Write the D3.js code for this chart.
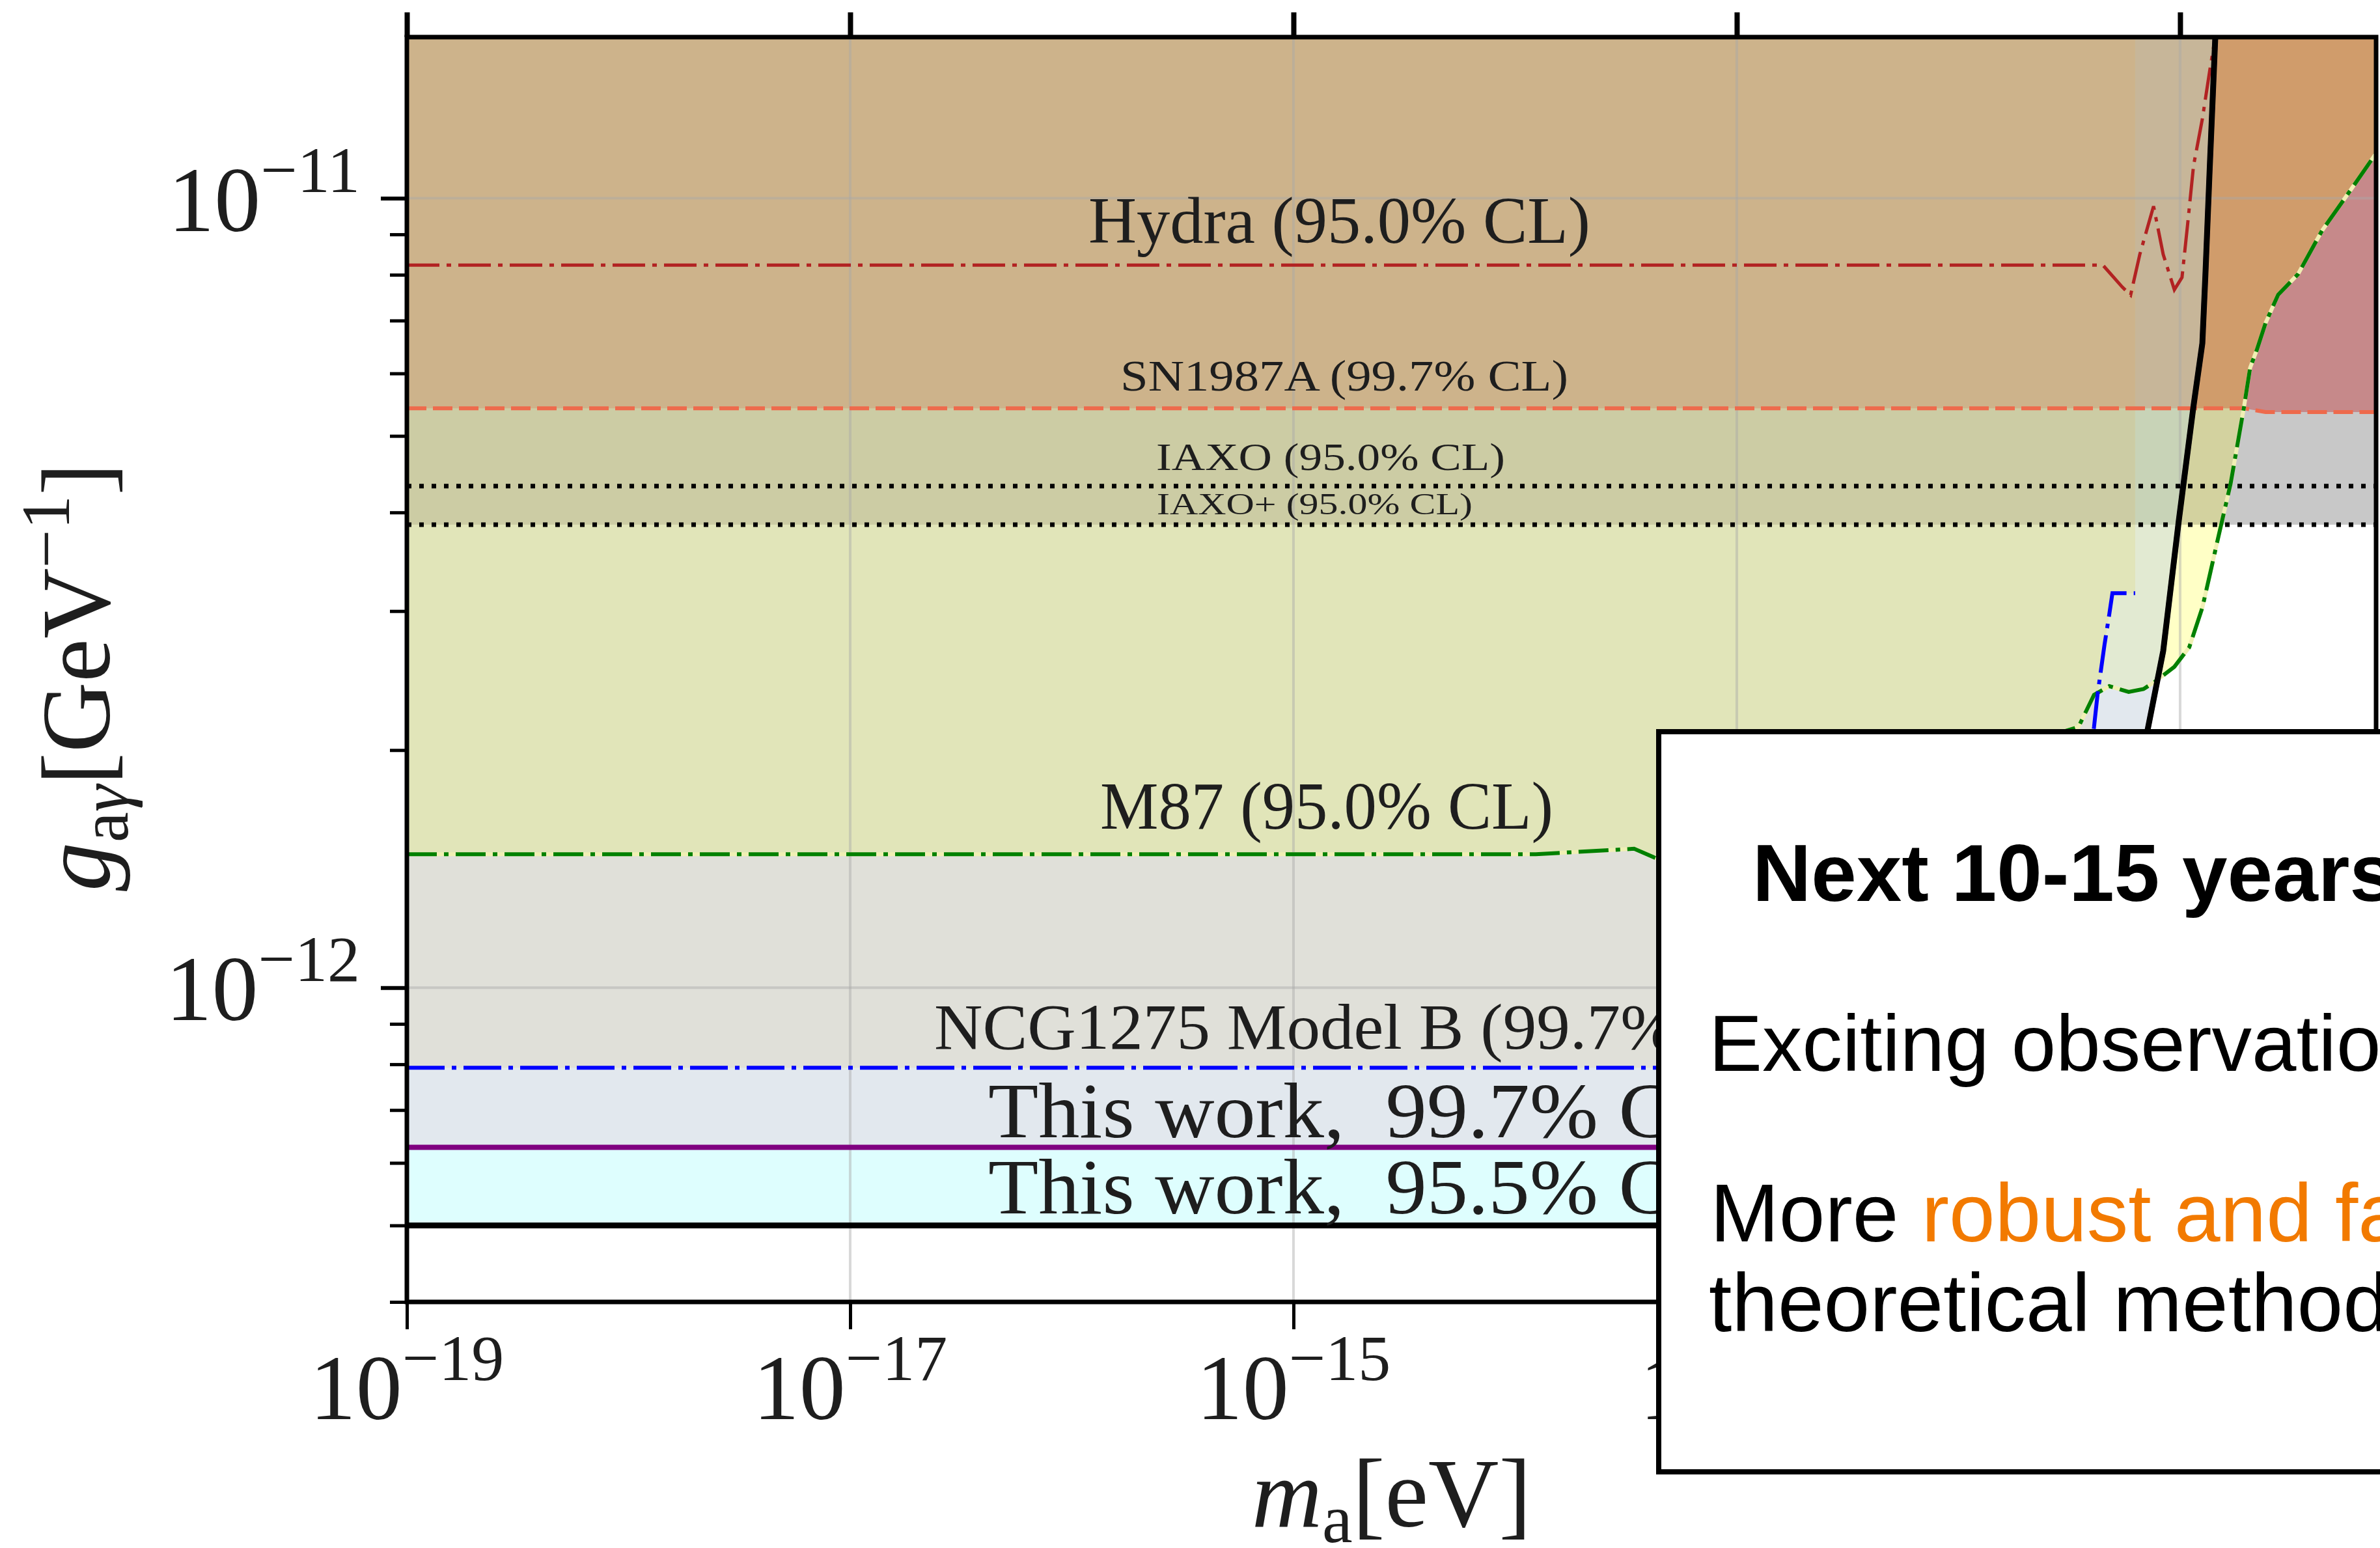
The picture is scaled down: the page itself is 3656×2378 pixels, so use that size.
<!DOCTYPE html>
<html>
<head>
<meta charset="utf-8">
<script src="https://cdn.jsdelivr.net/npm/d3@7"></script>
<style>
  body { margin: 0; background: #fff; }
  svg { display: block; }
</style>
</head>
<body>
<div id="chart"></div>
<script>
// ticks
const xMajor = [1e-19, 1e-17, 1e-15, 1e-13, 1e-11];
const yMajor = [1e-11, 1e-12];
const yMinor = [9e-12, 8e-12, 7e-12, 6e-12, 5e-12, 4e-12, 3e-12, 2e-12,
                9e-13, 8e-13, 7e-13, 6e-13, 5e-13, 4e-13];

// limit curves, [m_a (eV), g_a_gamma (GeV^-1)]
const hydra = [[1e-19, 8.23e-12], [4.48e-12, 8.23e-12], [5.48e-12, 7.72e-12], [5.98e-12, 7.54e-12],
  [6.58e-12, 8.49e-12], [7.59e-12, 9.77e-12], [8.39e-12, 8.49e-12], [9.42e-12, 7.66e-12],
  [1.02e-11, 7.94e-12], [1.08e-11, 9.24e-12], [1.15e-11, 1.10e-11], [1.26e-11, 1.26e-11],
  [1.36e-11, 1.45e-11], [1.43e-11, 1.58e-11], [1.46e-11, 1.70e-11]];
const sn1987a = [[1e-19, 5.42e-12], [1.94e-11, 5.42e-12], [2.43e-11, 5.36e-12], [7.66e-11, 5.36e-12]];
const iaxo = [[1e-19, 4.32e-12], [7.66e-11, 4.32e-12]];
const iaxoPlus = [[1e-19, 3.86e-12], [7.66e-11, 3.86e-12]];
const m87 = [[1e-19, 1.476e-12], [1.24e-14, 1.476e-12], [3.44e-14, 1.50e-12], [4.30e-14, 1.46e-12],
  [3.48e-12, 2.14e-12], [4.09e-12, 2.35e-12], [4.79e-12, 2.41e-12], [5.86e-12, 2.37e-12],
  [6.84e-12, 2.39e-12], [7.67e-12, 2.44e-12], [9.42e-12, 2.55e-12], [1.10e-11, 2.70e-12],
  [1.26e-11, 3.03e-12], [1.35e-11, 3.30e-12], [1.48e-11, 3.70e-12], [1.69e-11, 4.35e-12],
  [1.94e-11, 5.43e-12], [2.07e-11, 6.10e-12], [2.22e-11, 6.43e-12], [2.43e-11, 6.95e-12],
  [2.77e-11, 7.55e-12], [3.40e-11, 8.01e-12], [4.37e-11, 9.10e-12], [5.96e-11, 1.03e-11],
  [7.66e-11, 1.14e-11]];
const ncg1275 = [[1e-19, 7.92e-13], [2.51e-12, 7.92e-13], [4.09e-12, 2.14e-12], [4.24e-12, 2.35e-12],
  [4.56e-12, 2.72e-12], [4.79e-12, 2.97e-12], [4.95e-12, 3.16e-12], [6.27e-12, 3.16e-12]];
// high-mass edge shared by both "this work" bounds
const thisWorkEdge = [[7.18e-12, 2.14e-12], [8.39e-12, 2.67e-12], [9.86e-12, 3.90e-12],
  [1.15e-11, 5.46e-12], [1.26e-11, 6.55e-12], [1.30e-11, 7.97e-12], [1.36e-11, 1.09e-11],
  [1.44e-11, 1.59e-11], [1.45e-11, 1.70e-11]];
const thisWork997 = [[1e-19, 6.28e-13], [2.82e-12, 6.28e-13]].concat(thisWorkEdge);
const thisWork955 = [[1e-19, 5.0e-13], [2.51e-12, 5.0e-13]].concat(thisWorkEdge);

const width = 3656, height = 2378;

const x = d3.scaleLog().domain([1e-19, 7.66e-11]).range([625, 3650]);
const y = d3.scaleLog().domain([4e-13, 1.6e-11]).range([2000, 57]);
const [x0, x1] = x.range();
const [y0, y1] = y.range();

const svg = d3.select("#chart")
  .append("svg")
    .attr("width", width)
    .attr("height", height);

svg.append("rect").attr("width", width).attr("height", height).attr("fill", "#fff");

// area between a curve and the top of the plot
const above = d3.area()
  .x(d => x(d[0]))
  .y0(y1)
  .y1(d => y(d[1]));
const line = d3.line()
  .x(d => x(d[0]))
  .y(d => y(d[1]));

const boxPath = `M${x0},${y1}H${x1}V${y0}H${x0}Z`;

const defs = svg.append("defs");
defs.append("clipPath").attr("id", "plotClip")
  .append("rect").attr("x", x0).attr("y", y1).attr("width", x1 - x0).attr("height", y0 - y1);
defs.append("clipPath").attr("id", "twClip")
  .append("path").attr("d", above(thisWork955));
defs.append("clipPath").attr("id", "notTwClip")
  .append("path").attr("d", boxPath + above(thisWork955)).attr("clip-rule", "evenodd");
defs.append("clipPath").attr("id", "m87Clip")
  .append("path").attr("d", above(m87));
defs.append("clipPath").attr("id", "ncgClip")
  .append("path").attr("d", above(ncg1275));

const plot = svg.append("g").attr("clip-path", "url(#plotClip)");

function fillAll(g, color) {
  g.append("path").attr("d", boxPath).attr("fill", color);
}
function fillAbove(g, data, color) {
  g.append("path").attr("d", above(data)).attr("fill", color);
}

// excluded by this work (left of its edge)
const left = plot.append("g").attr("clip-path", "url(#twClip)");
fillAll(left, "#defefe");
fillAbove(left, thisWork997, "#e2e8ee");
const leftM87 = left.append("g").attr("clip-path", "url(#m87Clip)");
fillAll(leftM87, "#e2ead2");
fillAbove(leftM87, iaxoPlus, "#c8d3b7");
fillAbove(leftM87, sn1987a, "#c7b699");
const leftNcg = left.append("g").attr("clip-path", "url(#ncgClip)");
fillAll(leftNcg, "#e0e0d9");
const leftNcgM87 = leftNcg.append("g").attr("clip-path", "url(#m87Clip)");
fillAll(leftNcgM87, "#e1e5b9");
fillAbove(leftNcgM87, iaxoPlus, "#cccca4");
fillAbove(leftNcgM87, sn1987a, "#cdb38b");

// right of this work's edge
const right = plot.append("g").attr("clip-path", "url(#notTwClip)");
fillAbove(right, iaxoPlus, "#c8c8c8");
fillAbove(right, sn1987a, "#c6898a");
const rightM87 = right.append("g").attr("clip-path", "url(#m87Clip)");
fillAll(rightM87, "#ffffc6");
fillAbove(rightM87, iaxoPlus, "#d3d29f");
fillAbove(rightM87, sn1987a, "#d09c6b");

// grid
plot.selectAll(".vgrid")
  .data(xMajor.slice(1))
  .join("line")
    .attr("x1", d => x(d)).attr("x2", d => x(d))
    .attr("y1", y1).attr("y2", y0)
    .attr("stroke", "#a8a8a8").attr("stroke-opacity", 0.45).attr("stroke-width", 4);
plot.selectAll(".hgrid")
  .data(yMajor)
  .join("line")
    .attr("x1", x0).attr("x2", x1)
    .attr("y1", d => y(d)).attr("y2", d => y(d))
    .attr("stroke", "#a8a8a8").attr("stroke-opacity", 0.45).attr("stroke-width", 4);

// limit lines
function drawLine(data, color, w, dash) {
  plot.append("path")
    .datum(data)
    .attr("fill", "none")
    .attr("stroke", color)
    .attr("stroke-width", w)
    .attr("stroke-dasharray", dash)
    .attr("d", line);
}
drawLine(hydra, "#b22222", 5, "50 11 7 11");
drawLine(sn1987a, "#ee6a4c", 6, "30 10");
drawLine(iaxo, "#000", 7, "7 12");
drawLine(iaxoPlus, "#000", 7, "7 12");
drawLine(m87, "#f0f0b4", 6, null);
drawLine(m87, "#008000", 6, "46 11 7 11");
drawLine(ncg1275, "#0000ff", 6, "58 11 7 11");
drawLine(thisWork997, "#800080", 8, null);
drawLine(thisWork955, "#000", 9, null);

// curve labels, placed just above their line
function addLabel(text, lx, level, gap, size, len) {
  plot.append("text")
    .attr("x", lx)
    .attr("y", y(level) - gap)
    .attr("font-family", "Liberation Serif, Times New Roman, serif")
    .attr("font-size", size)
    .attr("fill", "#1e1e1e")
    .attr("textLength", len)
    .attr("lengthAdjust", "spacingAndGlyphs")
    .text(text);
}
addLabel("Hydra (95.0% CL)", 1672, hydra[0][1], 34, 101, 771);
addLabel("SN1987A (99.7% CL)", 1721, sn1987a[0][1], 27, 68, 688);
addLabel("IAXO (95.0% CL)", 1776, iaxo[0][1], 25, 60, 536);
addLabel("IAXO+ (95.0% CL)", 1777, iaxoPlus[0][1], 16, 46, 485);
addLabel("M87 (95.0% CL)", 1690, m87[0][1], 39, 104, 696);
addLabel("NCG1275 Model B (99.7% CL)", 1435, ncg1275[0][1], 29, 100, 1332);
addLabel("This work,\u00a0 99.7% CL", 1518, thisWork997[0][1], 15, 121, 1130);
addLabel("This work,\u00a0 95.5% CL", 1518, thisWork955[0][1], 18, 121, 1130);

// frame
svg.append("rect")
  .attr("x", x0).attr("y", y1)
  .attr("width", x1 - x0).attr("height", y0 - y1)
  .attr("fill", "none").attr("stroke", "#000").attr("stroke-width", 7);

// ticks
const bottomAxis = svg.append("g")
  .attr("transform", `translate(0,${y0})`)
  .call(d3.axisBottom(x).tickValues(xMajor).tickSize(42).tickSizeOuter(0).tickFormat(""));
const topAxis = svg.append("g")
  .attr("transform", `translate(0,${y1})`)
  .call(d3.axisTop(x).tickValues(xMajor).tickSize(38).tickSizeOuter(0).tickFormat(""));
const leftMinor = svg.append("g")
  .attr("transform", `translate(${x0},0)`)
  .call(d3.axisLeft(y).tickValues(yMinor).tickSize(26).tickSizeOuter(0).tickFormat(""));
const leftMajor = svg.append("g")
  .attr("transform", `translate(${x0},0)`)
  .call(d3.axisLeft(y).tickValues(yMajor).tickSize(40).tickSizeOuter(0).tickFormat(""));
[bottomAxis, topAxis, leftMinor, leftMajor].forEach(a => a.select(".domain").remove());
bottomAxis.selectAll("line").attr("stroke", "#000").attr("stroke-width", 5);
topAxis.selectAll("line").attr("stroke", "#000").attr("stroke-width", 8);
leftMinor.selectAll("line").attr("stroke", "#000").attr("stroke-width", 5);
leftMajor.selectAll("line").attr("stroke", "#000").attr("stroke-width", 6);

// tick labels 10^n
function powLabel(t, v) {
  t.append("tspan").text("10");
  t.append("tspan").attr("font-size", 100).attr("dy", -60)
    .text("\u2212" + Math.abs(Math.round(Math.log10(v))));
}
svg.selectAll(".xlab")
  .data(xMajor)
  .join("text")
    .attr("x", d => x(d))
    .attr("y", 2180)
    .attr("text-anchor", "middle")
    .attr("font-family", "Liberation Serif, serif")
    .attr("font-size", 142)
    .attr("fill", "#1e1e1e")
    .each(function(d) { powLabel(d3.select(this), d); });
svg.selectAll(".ylab")
  .data(yMajor)
  .join("text")
    .attr("x", 553)
    .attr("y", d => y(d) + 50)
    .attr("text-anchor", "end")
    .attr("font-family", "Liberation Serif, serif")
    .attr("font-size", 142)
    .attr("fill", "#1e1e1e")
    .each(function(d) { powLabel(d3.select(this), d); });

// axis titles
const xt = svg.append("text")
  .attr("x", (x0 + x1) / 2)
  .attr("y", 2345)
  .attr("text-anchor", "middle")
  .attr("font-family", "Liberation Serif, serif")
  .attr("font-size", 150)
  .attr("fill", "#1e1e1e");
xt.append("tspan").attr("font-style", "italic").text("m");
xt.append("tspan").attr("font-size", 105).attr("dy", 24).text("a");
xt.append("tspan").attr("dy", -24).text("[eV]");

const yt = svg.append("text")
  .attr("transform", `translate(168,1040) rotate(-90)`)
  .attr("text-anchor", "middle")
  .attr("font-family", "Liberation Serif, serif")
  .attr("font-size", 150)
  .attr("fill", "#1e1e1e");
yt.append("tspan").attr("font-style", "italic").text("g");
yt.append("tspan").attr("font-size", 105).attr("dy", 28).text("a");
yt.append("tspan").attr("font-size", 105).attr("font-style", "italic").text("\u03b3");
yt.append("tspan").attr("dy", -28).text("[GeV");
yt.append("tspan").attr("font-size", 105).attr("dy", -62).text("\u22121");
yt.append("tspan").attr("dy", 62).text("]");

// overlay box
svg.append("rect")
  .attr("x", 2548).attr("y", 1124)
  .attr("width", 1300).attr("height", 1137)
  .attr("fill", "#fff").attr("stroke", "#000").attr("stroke-width", 8);

const sans = "Liberation Sans, Helvetica, Arial, sans-serif";
svg.append("text")
  .attr("x", 2692).attr("y", 1384)
  .attr("font-family", sans).attr("font-weight", "bold").attr("font-size", 125)
  .text("Next 10-15 years");
svg.append("text")
  .attr("x", 2625).attr("y", 1645)
  .attr("font-family", sans).attr("font-size", 123)
  .text("Exciting observational prospects");
const more = svg.append("text")
  .attr("x", 2627).attr("y", 1907)
  .attr("font-family", sans).attr("font-size", 127);
more.append("tspan").text("More ");
more.append("tspan").attr("fill", "#f27a00").text("robust and faster");
svg.append("text")
  .attr("x", 2625).attr("y", 2045)
  .attr("font-family", sans).attr("font-size", 127)
  .text("theoretical methods");
</script>
</body>
</html>
